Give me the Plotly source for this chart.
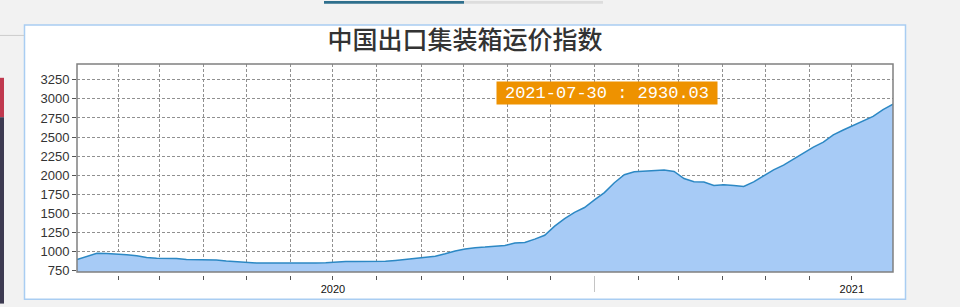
import datetime as dt
import plotly.graph_objects as go

# ---- data (weekly index) ----
start_date = dt.date(2020, 1, 3)
index_values = [
    892, 935, 974, 972, 966, 955, 942, 920, 908, 906,
    905, 893, 892, 892, 885, 873, 862, 851, 848, 846,
    845, 844, 844, 845, 847, 850, 860, 866, 866, 866,
    866, 868, 880, 892, 905, 920, 935, 968, 1005, 1030,
    1048, 1055, 1065, 1077, 1110, 1115, 1160, 1210, 1330, 1430,
    1510, 1575, 1675, 1770, 1900, 2005, 2045, 2050, 2058, 2068,
    2048, 1955, 1914, 1910, 1864, 1875, 1862, 1852, 1912, 1993,
    2068, 2132, 2210, 2292, 2367, 2432, 2527, 2592, 2652, 2705,
    2770, 2860, 2930.03,
]
dates = [(start_date + dt.timedelta(weeks=i)).isoformat() for i in range(len(index_values))]

tick_dates = [
    "2020-02-01", "2020-03-01", "2020-04-01", "2020-05-01", "2020-06-01", "2020-07-01",
    "2020-08-01", "2020-09-01", "2020-10-01", "2020-11-01", "2020-12-01", "2021-01-01",
    "2021-02-01", "2021-03-01", "2021-04-01", "2021-05-01", "2021-06-01", "2021-07-01",
]
tick_labels = ["", "", "", "", "", "2020", "", "", "", "", "", "", "", "", "", "", "", "2021"]
year_break = ["2021-01-01"]
y_ticks = [750, 1000, 1250, 1500, 1750, 2000, 2250, 2500, 2750, 3000, 3250]

title_text = "中国出口集装箱运价指数"

# ---- figure ----
W, H = 960, 307
ML, MR, MT, MB = 77, 67, 64, 29
PW = W - ML - MR
PH = H - MT - MB
def px(x):
    return (x - ML) / PW
def py(y):
    return (H - MB - y) / PH

x_range = [dates[0], dates[-1]]
y_range = [728, 3458]

fig = go.Figure()
fig.add_trace(go.Scatter(
    x=dates, y=index_values, mode="lines",
    line=dict(color="#2C88C4", width=1.5),
    fill="tozeroy", fillcolor="#A7CBF6",
    hoverinfo="skip", showlegend=False,
))

grid = dict(showgrid=True, gridcolor="#909090", griddash="3px,2px", gridwidth=1)

fig.update_layout(
    width=W, height=H,
    margin=dict(l=ML, r=MR, t=MT, b=MB),
    paper_bgcolor="#f2f2f2",
    plot_bgcolor="#ffffff",
    showlegend=False,
    title=dict(
        text=title_text, x=465 / W, xref="container", xanchor="center",
        y=1 - 40 / H, yref="container", yanchor="middle",
        font=dict(family="Noto Sans CJK SC", size=25, color="#333333", weight=500),
    ),
    xaxis=dict(
        type="date", range=x_range, domain=[0, 1],
        tickvals=tick_dates, ticktext=[""] * len(tick_dates),
        ticks="", showticklabels=False, showline=False, zeroline=False,
        **grid,
    ),
    xaxis2=dict(
        type="date", range=x_range, overlaying="x", anchor="free", position=0,
        tickvals=tick_dates, ticktext=tick_labels,
        ticks="outside", ticklen=4, tickcolor="#555555", tickwidth=1,
        tickfont=dict(family="Liberation Sans", size=11, color="#111111"),
        showline=False, showgrid=False, zeroline=False,
    ),
    xaxis3=dict(
        type="date", range=x_range, overlaying="x", anchor="free", position=0,
        tickvals=year_break, ticktext=[""],
        ticks="outside", ticklen=16, tickcolor="#c4c4c4", tickwidth=1,
        showticklabels=False, showline=False, showgrid=False, zeroline=False,
    ),
    yaxis=dict(
        range=y_range, domain=[3 / PH, 1],
        tickvals=y_ticks, ticks="outside", ticklen=4, tickcolor="#555555",
        tickfont=dict(family="Liberation Sans", size=13, color="#333333"),
        showline=False, zeroline=False,
        **grid,
    ),
)

# invisible anchor traces so the overlay tick axes render
for ax in ("x2", "x3"):
    fig.add_trace(go.Scatter(x=x_range, y=[y_range[0], y_range[0]], xaxis=ax, yaxis="y",
                             mode="lines", line=dict(width=0), opacity=0,
                             hoverinfo="skip", showlegend=False))

# plot frame
fig.add_shape(type="rect", xref="x domain", yref="y domain", x0=0, x1=1, y0=0, y1=1,
              line=dict(color="#808080", width=1.5), layer="above")

# page decorations: white chart panel with light-blue border
fig.add_shape(type="rect", xref="paper", yref="paper",
              x0=px(24.5), x1=px(905.5), y0=py(302.5), y1=py(24.5),
              line=dict(color="#a9cdf2", width=1.5), fillcolor="#ffffff", layer="below")
# top tab bars
fig.add_shape(type="rect", xref="paper", yref="paper",
              x0=px(324), x1=px(464), y0=py(3), y1=py(0),
              line=dict(width=0), fillcolor="#2f6f8d", layer="below")
fig.add_shape(type="rect", xref="paper", yref="paper",
              x0=px(464), x1=px(603), y0=py(3), y1=py(0),
              line=dict(width=0), fillcolor="#dddddd", layer="below")
# left side strips
fig.add_shape(type="rect", xref="paper", yref="paper",
              x0=px(0), x1=px(4), y0=py(118), y1=py(78),
              line=dict(width=0), fillcolor="#c0394f", layer="below")
fig.add_shape(type="rect", xref="paper", yref="paper",
              x0=px(0), x1=px(4), y0=py(307), y1=py(118),
              line=dict(width=0), fillcolor="#3d3b52", layer="below")
fig.add_shape(type="line", xref="paper", yref="paper",
              x0=px(0), x1=px(24), y0=py(35), y1=py(35),
              line=dict(color="#cccccc", width=1), layer="below")

# latest value label
fig.add_annotation(
    xref="paper", yref="paper", x=px(607), y=py(81),
    text=f"{dates[-1]} : {index_values[-1]:.2f}",
    showarrow=False, bgcolor="#ee9200", borderpad=1, width=218, height=20,
    font=dict(family="Liberation Mono", size=17, color="#ffffff"),
)

fig.write_html("out.html")
